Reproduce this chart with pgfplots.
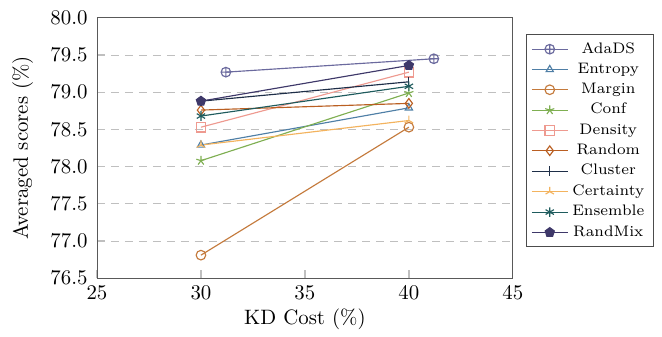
\documentclass[border=0pt]{standalone}
\usepackage{pgfplots}
\pgfplotsset{compat=1.18}
\usetikzlibrary{plotmarks}
\definecolor{cAda}{HTML}{6B6A9E}
\definecolor{cEnt}{HTML}{4F7FA6}
\definecolor{cMar}{HTML}{C47A3C}
\definecolor{cConf}{HTML}{7FAF52}
\definecolor{cDen}{HTML}{EE9A90}
\definecolor{cRan}{HTML}{BA5F22}
\definecolor{cClu}{HTML}{1E2E48}
\definecolor{cCer}{HTML}{F3B35E}
\definecolor{cEns}{HTML}{1E5B5D}
\definecolor{cRM}{HTML}{3E3869}
\begin{document}
\begin{tikzpicture}
\begin{axis}[
  width=199.5pt, height=124.9pt, scale only axis,
  xmin=25, xmax=45, ymin=76.5, ymax=80,
  xtick={25,30,35,40,45},
  ytick={76.5,77,77.5,78,78.5,79,79.5,80},
  yticklabel style={/pgf/number format/fixed,/pgf/number format/fixed zerofill,/pgf/number format/precision=1, xshift=-1pt},
  xlabel={KD Cost (\%)}, ylabel={Averaged scores (\%)},
  ylabel shift=1.5pt, xlabel shift=-2pt,
  axis line style={draw=black!65},
  tick style={draw=black!25, line width=0.6pt},
  major tick length=4pt,
  tick pos=left,
  ymajorgrids, grid style={draw=black!25, dash pattern=on 3.8pt off 2.9pt, line width=0.5pt},
  every axis plot/.append style={line width=0.55pt, mark size=2.3pt},
  legend style={at={(1.031,0.528)}, anchor=west, font=\fontsize{7.3}{8.8}\selectfont, draw=black!70, row sep=-0.8pt, inner xsep=2.5pt, inner ysep=1.5pt},
  legend cell align=center,
]
\addplot[color=cAda, mark=oplus] coordinates {(31.2,79.27) (41.2,79.45)};
\addlegendentry{AdaDS}
\addplot[color=cEnt, mark=triangle, mark size=2pt] coordinates {(30,78.29) (40,78.79)};
\addlegendentry{Entropy}
\addplot[color=cMar, mark=o] coordinates {(30,76.81) (40,78.53)};
\addlegendentry{Margin}
\addplot[color=cConf, mark=star] coordinates {(30,78.08) (40,78.99)};
\addlegendentry{Conf}
\addplot[color=cDen, mark=square] coordinates {(30,78.53) (40,79.27)};
\addlegendentry{Density}
\addplot[color=cRan, mark=diamond] coordinates {(30,78.76) (40,78.85)};
\addlegendentry{Random}
\addplot[color=cClu, mark=|] coordinates {(30,78.88) (40,79.14)};
\addlegendentry{Cluster}
\addplot[color=cCer, mark=Mercedes star] coordinates {(30,78.29) (40,78.62)};
\addlegendentry{Certainty}
\addplot[color=cEns, mark=asterisk] coordinates {(30,78.68) (40,79.08)};
\addlegendentry{Ensemble}
\addplot[color=cRM, mark=pentagon*] coordinates {(30,78.88) (40,79.36)};
\addlegendentry{RandMix}
\end{axis}
\path ([xshift=-2.5pt]current bounding box.west) ([xshift=3.8pt]current bounding box.east) ([yshift=2pt]current bounding box.north);
\end{tikzpicture}
\end{document}
